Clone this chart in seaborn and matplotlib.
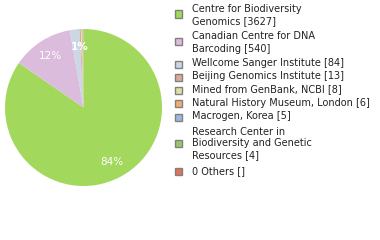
import matplotlib
matplotlib.use("Agg")
import matplotlib.pyplot as plt
import matplotlib.patches as mpatches
import numpy as np
import seaborn as sns

sns.set_theme(style="white")
plt.rcParams['font.family'] = ['DejaVu Sans']

institutions = ["Centre for Biodiversity\nGenomics", "Canadian Centre for DNA\nBarcoding",
                "Wellcome Sanger Institute", "Beijing Genomics Institute",
                "Mined from GenBank, NCBI", "Natural History Museum, London",
                "Macrogen, Korea", "Research Center in\nBiodiversity and Genetic\nResources",
                "0 Others"]
counts = [3627, 540, 84, 13, 8, 6, 5, 4, 0]
count_labels = ["3627", "540", "84", "13", "8", "6", "5", "4", ""]
colors = ["#a2d95c", "#dcbcdd", "#c9d8e4", "#e0a89b", "#dde39f", "#f0ad70",
          "#9bb9dd", "#9dc46c", "#df7259"]

W, H = 380, 240
fig = plt.figure(figsize=(W / 100, H / 100), dpi=100)
cx, cy, r = 83.5, 107.5, 78.5
ax = fig.add_axes([(cx - r) / W, 1 - (cy + r) / H, 2 * r / W, 2 * r / H])
vals = [c for c in counts if c > 0]
cols = colors[:len(vals)]
wedges, _ = ax.pie(vals, colors=cols, startangle=90, counterclock=False,
                   wedgeprops=dict(linewidth=0), radius=1)
ax.set_xlim(-1, 1)
ax.set_ylim(-1, 1)
ax.set_aspect('equal')
ax.axis('off')

total = sum(vals)
for w, v in zip(wedges[:2], vals[:2]):
    ang = np.deg2rad((w.theta1 + w.theta2) / 2)
    pct = int(100 * v / total)
    ax.text(0.78 * np.cos(ang), 0.78 * np.sin(ang), f"{pct}%", color="white",
            ha="center", va="center", fontsize=7.5)
w = wedges[2]
ang = np.deg2rad((w.theta1 + w.theta2) / 2)
ax.text(0.78 * np.cos(ang) + 0.04, 0.78 * np.sin(ang), f"{int(100 * vals[2] / total)}%",
        color="white", ha="center", va="center", fontsize=7.5, fontweight="bold")

# legend
text_rows = [[9, 21], [36, 49], [63], [76], [89], [103], [116], [132, 143, 155], [171]]
marker_y = [14, 41, 64, 77, 90, 103, 117, 143, 171]
for name, cl, col, rows, my in zip(institutions, count_labels, colors, text_rows, marker_y):
    fig.add_artist(mpatches.Rectangle((174.5 / W, 1 - (my + 3.5) / H), 7 / W, 7 / H,
                                      transform=fig.transFigure, facecolor=col,
                                      edgecolor="#808080", linewidth=1))
    lines = name.split("\n")
    lines[-1] = lines[-1] + f" [{cl}]"
    for ln, y in zip(lines, rows):
        fig.text(192 / W, 1 - y / H, ln, ha="left", va="center", fontsize=7.0, color="#222222")

fig.savefig("out.png", dpi=100)
